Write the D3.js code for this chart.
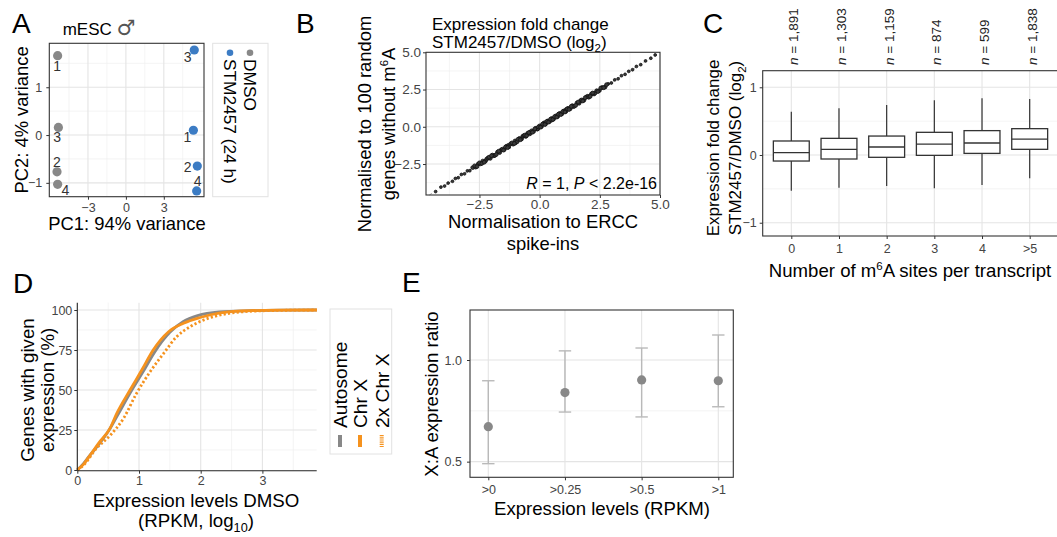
<!DOCTYPE html>
<html>
<head>
<meta charset="utf-8">
<script src="https://cdn.jsdelivr.net/npm/d3@7"></script>
<style>body{margin:0;background:#fff}</style>
</head>
<body>
<script>
// ---- data ----
// A: PCA of samples
var pcaGroup = ["DMSO","DMSO","DMSO","DMSO","STM2457 (24 h)","STM2457 (24 h)","STM2457 (24 h)","STM2457 (24 h)"];
var pcaRep = ["1","2","3","4","1","2","3","4"];
var pcaPC1 = [-5.4,-5.45,-5.34,-5.4,5.34,5.65,5.41,5.6];
var pcaPC2 = [1.66,-0.77,0.16,-1.03,0.10,-0.65,1.78,-1.17];

// B: fold change, ERCC normalisation vs 100 random genes
var foldChangePairs = [[-4.32,-4.35],[-4.1,-4.05],[-3.95,-3.98],[-3.8,-3.78],[-3.62,-3.66],[-3.5,-3.47],[-3.38,-3.42],[-3.25,-3.2],[-3.12,-3.16],[-3.0,-2.96],[-2.9,-2.95],[-2.78,-2.74],[-2.66,-2.71],[-2.55,-2.5],[-2.45,-2.49],[-2.36,-2.3],[-2.25,-2.3],[-2.2,-2.17],[-2.15,-2.1],[-2.05,-2.12],[-1.96,-1.9],[-1.9,-1.95],[-1.86,-1.92],[-1.75,-1.7],[-1.66,-1.73],[-1.6,-1.56],[-1.55,-1.5],[-1.47,-1.53],[-1.38,-1.31],[-1.3,-1.25],[-1.28,-1.35],[-1.2,-1.14],[-1.1,-1.17],[-1.02,-0.95],[-1.0,-1.08],[-0.93,-1.0],[-0.84,-0.78],[-0.75,-0.82],[-0.7,-0.64],[-0.66,-0.6],[-0.58,-0.65],[-0.5,-0.44],[-0.41,-0.48],[-0.4,-0.36],[-0.33,-0.27],[-0.25,-0.31],[-0.16,-0.1],[-0.1,-0.16],[-0.08,-0.14],[0.0,0.06],[0.08,0.02],[0.16,0.22],[0.2,0.27],[0.25,0.19],[0.33,0.39],[0.41,0.35],[0.5,0.56],[0.5,0.45],[0.58,0.52],[0.67,0.73],[0.75,0.69],[0.8,0.86],[0.84,0.9],[0.92,0.86],[1.0,1.06],[1.09,1.03],[1.1,1.15],[1.18,1.24],[1.27,1.21],[1.36,1.42],[1.4,1.35],[1.45,1.39],[1.55,1.6],[1.64,1.58],[1.7,1.75],[1.74,1.8],[1.84,1.78],[1.94,2.0],[2.0,2.05],[2.04,1.98],[2.15,2.2],[2.26,2.2],[2.3,2.26],[2.37,2.42],[2.48,2.43],[2.6,2.64],[2.72,2.67],[2.85,2.88],[2.98,2.94],[3.12,3.15],[3.26,3.22],[3.4,3.43],[3.55,3.52],[3.7,3.72],[3.86,3.83],[4.02,4.05],[4.2,4.17],[4.4,4.42],[4.62,4.6],[4.8,4.82],
    [-2.7,-2.62],[-2.6,-2.67],[-2.5,-2.42],[-2.4,-2.46],[-2.3,-2.38],[-2.1,-2.04],[-2.0,-1.94],[-1.8,-1.86],[-1.7,-1.64],[-1.5,-1.57],[-1.42,-1.36],[-1.33,-1.4],[-1.15,-1.08],[-1.05,-1.12],[-0.9,-0.84],[-0.8,-0.87],[-0.62,-0.56],[-0.54,-0.6],[-0.45,-0.39],[-0.3,-0.37],[-0.2,-0.14],[-0.05,-0.01],[0.04,-0.03],[0.12,0.18],[0.22,0.15],[0.3,0.36],[0.37,0.31],[0.45,0.51],[0.55,0.49],[0.62,0.68],[0.71,0.65],[0.78,0.84],[0.88,0.82],[0.96,1.02],[1.05,0.99],[1.14,1.2],[1.22,1.16],[1.31,1.37],[1.5,1.44],[1.6,1.66],[1.79,1.73],[1.89,1.95],[2.1,2.04],[2.2,2.27],[2.42,2.36],[2.54,2.6],[2.66,2.62],[2.78,2.83]];

// C: boxplots by number of m6A sites
var siteCats = ["0","1","2","3","4",">5"];
var siteN = ["1,891","1,303","1,159","874","599","1,838"];
var boxLow = [-0.527,-0.483,-0.458,-0.49,-0.443,-0.345];
var boxQ1 = [-0.089,-0.059,-0.034,-0.005,0.024,0.084];
var boxMed = [0.034,0.084,0.118,0.162,0.177,0.236];
var boxQ3 = [0.207,0.246,0.28,0.335,0.36,0.389];
var boxHigh = [0.64,0.69,0.74,0.81,0.837,0.827];

// D: cumulative expression distributions
var autoX = [0,0.1,0.2,0.35,0.5,0.65,0.87,1.06,1.25,1.5,1.72,1.95,2.3,2.8,3.3,3.88];
var autoY = [0,4,9,16,24,34,49,61,73.5,86,92.8,96.5,98.8,99.6,99.9,100];
var chrXX = [0,0.1,0.21,0.35,0.53,0.64,0.855,1.045,1.23,1.48,1.72,1.99,2.32,2.8,3.3,3.88];
var chrXY = [0,3.5,9.4,17,26,35.4,50,62.5,75,86.4,91.7,95.3,98.2,99.6,99.9,100];
var twoXX = [0,0.1,0.31,0.53,0.75,0.96,1.18,1.4,1.61,1.83,2.05,2.32,2.69,3.2,3.88];
var twoXY = [0,3,13.5,21.5,32.3,47.9,61.4,72.9,83.3,89.6,93.8,96.9,98.9,99.7,100];
var cdfNames = ["Autosome","Chr X","2x Chr X"];

// E: X:A ratio by expression threshold
var rpkmCats = [">0",">0.25",">0.5",">1"];
var xaRatio = [0.672,0.84,0.902,0.898];
var xaLow = [0.49,0.744,0.72,0.77];
var xaHigh = [0.898,1.045,1.059,1.123];

// ---- drawing ----
var FONT = "'Liberation Sans', Arial, Helvetica, sans-serif";
var GRAY = "#888888", BLUE = "#3c7cc4", ORANGE = "#f5921e";

var svg = d3.select("body").append("svg")
    .attr("width", 1057).attr("height", 537)
    .attr("font-family", FONT);

// text with sub/superscript and italic parts
function rich(sel, parts, size) {
    var shift = 0;
    parts.forEach(function(p) {
        var ts = sel.append("tspan").text(p[0]);
        var target = 0;
        if (p[1] === "sub") { target = size * 0.26; ts.attr("font-size", size * 0.68); }
        if (p[1] === "sup") { target = -size * 0.38; ts.attr("font-size", size * 0.62); }
        if (p[1] === "it") ts.attr("font-style", "italic");
        if (p[1] === "sym") ts.attr("font-size", size * 1.25).attr("font-family", "'DejaVu Sans', sans-serif").attr("fill", "#555");
        if (target !== shift) { ts.attr("dy", target - shift); shift = target; }
    });
    return sel;
}

function label(x, y, parts, size, rot, anchor) {
    var t = svg.append("text")
        .attr("transform", "translate(" + x + "," + y + ")" + (rot ? " rotate(" + rot + ")" : ""))
        .attr("font-size", size)
        .attr("text-anchor", anchor || "middle")
        .attr("fill", "#000");
    return rich(t, parts, size);
}

function vLines(g, s, vals, y0, y1, major) {
    g.selectAll(null).data(vals).enter().append("line")
        .attr("x1", s).attr("x2", s).attr("y1", y0).attr("y2", y1)
        .attr("stroke", major ? "#e4e4e4" : "#efefef")
        .attr("stroke-width", major ? 1.1 : 0.7);
}
function hLines(g, s, vals, x0, x1, major) {
    g.selectAll(null).data(vals).enter().append("line")
        .attr("y1", s).attr("y2", s).attr("x1", x0).attr("x2", x1)
        .attr("stroke", major ? "#e4e4e4" : "#efefef")
        .attr("stroke-width", major ? 1.1 : 0.7);
}
function styleAxis(g, size) {
    g.select(".domain").remove();
    g.attr("font-family", FONT).attr("font-size", size);
    g.selectAll(".tick line").attr("stroke", "#333");
    g.selectAll(".tick text").attr("fill", "#444");
}
function border(g, x0, y0, x1, y1) {
    g.append("rect").attr("x", x0).attr("y", y0)
        .attr("width", x1 - x0).attr("height", y1 - y0)
        .attr("fill", "none").attr("stroke", "#333").attr("stroke-width", 1.1);
}

// panel letters
[["A",12,33],["B",296,33],["C",703,33],["D",13,293],["E",402,292]].forEach(function(l) {
    svg.append("text").attr("x", l[1]).attr("y", l[2]).attr("font-size", 28).text(l[0]);
});

// ===== A =====
var gA = svg.append("g");
var ax = d3.scaleLinear().domain([-6.06, 6.18]).range([49.3, 204]);
var ay = d3.scaleLinear().domain([-1.29, 1.92]).range([196.7, 43.3]);
vLines(gA, ax, [-4.5,-1.5,1.5,4.5], 43.3, 196.7, false);
hLines(gA, ay, [-0.5,0.5,1.5], 49.3, 204, false);
vLines(gA, ax, [-3,0,3], 43.3, 196.7, true);
hLines(gA, ay, [-1,0,1], 49.3, 204, true);

var pcaColor = d3.scaleOrdinal().domain(["DMSO","STM2457 (24 h)"]).range([GRAY, BLUE]);
gA.selectAll("circle.pca").data(d3.range(pcaRep.length)).enter().append("circle")
    .attr("cx", function(i) { return ax(pcaPC1[i]); })
    .attr("cy", function(i) { return ay(pcaPC2[i]); })
    .attr("r", 4.6)
    .attr("fill", function(i) { return pcaColor(pcaGroup[i]); });
// where each replicate number sits next to its point
var repOffset = [[-0.6,10.7],[0,-9.4],[-1.3,9.4],[7.7,6],[-6,6.7],[-9.6,0.7],[-6.6,6.7],[1,-9.7]];
gA.selectAll("text.rep").data(d3.range(pcaRep.length)).enter().append("text")
    .attr("x", function(i) { return ax(pcaPC1[i]) + repOffset[i][0]; })
    .attr("y", function(i) { return ay(pcaPC2[i]) + repOffset[i][1]; })
    .attr("dy", "0.36em").attr("text-anchor", "middle")
    .attr("font-size", 14).attr("fill", "#333")
    .text(function(i) { return pcaRep[i]; });
border(gA, 49.3, 43.3, 204, 196.7);
var axA = gA.append("g").attr("transform", "translate(0,196.7)")
    .call(d3.axisBottom(ax).tickValues([-3,0,3]).tickSize(3).tickPadding(3).tickFormat(d3.format("d")));
styleAxis(axA, 12.5);
var ayA = gA.append("g").attr("transform", "translate(49.3,0)")
    .call(d3.axisLeft(ay).tickValues([-1,0,1]).tickSize(3).tickPadding(4).tickFormat(d3.format("d")));
styleAxis(ayA, 12.5);
label(62.7, 35, [["mESC "],["\u2642","sym"]], 17, 0, "start");
label(127, 230, [["PC1: 94% variance"]], 18.4);
label(21.7, 120, [["PC2: 4% variance"]], 18.4, -90).attr("dy", "0.36em");
// legend A
gA.append("rect").attr("x", 212.7).attr("y", 43.3).attr("width", 55.3).attr("height", 153.4)
    .attr("fill", "none").attr("stroke", "#e2e2e2");
[["STM2457 (24 h)", 230], ["DMSO", 250]].forEach(function(k) {
    gA.append("circle").attr("cx", k[1]).attr("cy", 52.7).attr("r", 3.3).attr("fill", pcaColor(k[0]));
    label(k[1], 59, [[k[0]]], 17.3, 90, "start").attr("dominant-baseline", "central");
});

// ===== B =====
var gB = svg.append("g");
var bx = d3.scaleLinear().domain([-4.72, 5.0]).range([426, 660]);
var by = d3.scaleLinear().domain([-4.58, 5.0]).range([195, 52.3]);
var bMinor = [-3.75,-1.25,1.25,3.75], bMajor = [-2.5,0,2.5,5];
vLines(gB, bx, bMinor, 52.3, 195, false);
hLines(gB, by, bMinor, 426, 660, false);
vLines(gB, bx, bMajor, 52.3, 195, true);
hLines(gB, by, bMajor.slice(0, 3), 426, 660, true);
gB.append("line")
    .attr("x1", bx(-4.58)).attr("y1", by(-4.58)).attr("x2", bx(5)).attr("y2", by(5))
    .attr("stroke", "#a8a8a8").attr("stroke-width", 1).attr("stroke-dasharray", "3,3");
gB.selectAll("circle.fc").data(foldChangePairs).enter().append("circle")
    .attr("cx", function(d) { return bx(d[0]); })
    .attr("cy", function(d) { return by(d[1]); })
    .attr("r", function(d) { return Math.abs(d[0]) < 2.8 ? 1.9 : 1.4; })
    .attr("fill", "#3a3a3a").attr("stroke", "#111").attr("stroke-width", 0.8);
border(gB, 426, 52.3, 660, 195);
var axB = gB.append("g").attr("transform", "translate(0,195)")
    .call(d3.axisBottom(bx).tickValues(bMajor).tickSize(3).tickPadding(1).tickFormat(d3.format(".1f")));
styleAxis(axB, 13.5);
var ayB = gB.append("g").attr("transform", "translate(426,0)")
    .call(d3.axisLeft(by).tickValues(bMajor).tickSize(3).tickPadding(2).tickFormat(d3.format(".1f")));
styleAxis(ayB, 13.5);
label(657, 189, [["R","it"],[" = 1, "],["P","it"],[" < 2.2e-16"]], 16, 0, "end");
label(432, 29.5, [["Expression fold change"]], 17, 0, "start");
label(432, 47.5, [["STM2457/DMSO (log"],["2","sub"],[")"]], 17, 0, "start");
label(543, 228, [["Normalisation to ERCC"]], 18.4);
label(543, 250, [["spike-ins"]], 18.4);
label(364, 124, [["Normalised to 100 random"]], 18.4, -90).attr("dy", "0.36em");
label(388, 124, [["genes without m"],["6","sup"],["A"]], 18.4, -90).attr("dy", "0.36em");

// ===== C =====
var gC = svg.append("g");
var cx = d3.scalePoint().domain(siteCats).range([762.7, 1058.3]).padding(0.6);
var cy = d3.scaleLinear().domain([-1.196, 1.245]).range([236, 70.7]);
hLines(gC, cy, [-0.5,0.5], 762.7, 1058.3, false);
hLines(gC, cy, [-1,0,1], 762.7, 1058.3, true);
vLines(gC, cx, siteCats, 70.7, 236, true);
var bw = cx.step() * 0.753;
siteCats.forEach(function(c, i) {
    var x = cx(c);
    gC.append("line").attr("x1", x).attr("x2", x).attr("y1", cy(boxHigh[i])).attr("y2", cy(boxLow[i]))
        .attr("stroke", "#333").attr("stroke-width", 1.2);
    gC.append("rect").attr("x", x - bw / 2).attr("width", bw)
        .attr("y", cy(boxQ3[i])).attr("height", cy(boxQ1[i]) - cy(boxQ3[i]))
        .attr("fill", "#fff").attr("stroke", "#333").attr("stroke-width", 1.3);
    gC.append("line").attr("x1", x - bw / 2).attr("x2", x + bw / 2)
        .attr("y1", cy(boxMed[i])).attr("y2", cy(boxMed[i]))
        .attr("stroke", "#333").attr("stroke-width", 1.3);
    label(x + 2, 65, [["n","it"],[" = " + siteN[i]]], 13.5, -90, "start")
        .attr("dominant-baseline", "central").attr("fill", "#222");
});
border(gC, 762.7, 70.7, 1058.3, 236);
var axC = gC.append("g").attr("transform", "translate(0,236)")
    .call(d3.axisBottom(cx).tickSize(3).tickPadding(5));
styleAxis(axC, 12.5);
var ayC = gC.append("g").attr("transform", "translate(762.7,0)")
    .call(d3.axisLeft(cy).tickValues([-1,0,1]).tickSize(3).tickPadding(3).tickFormat(d3.format("d")));
styleAxis(ayC, 12.5);
label(910, 277, [["Number of m"],["6","sup"],["A sites per transcript"]], 18.6);
label(713, 148, [["Expression fold change"]], 17, -90).attr("dy", "0.36em");
label(735, 148, [["STM2457/DMSO (log"],["2","sub"],[")"]], 17, -90).attr("dy", "0.36em");

// ===== D =====
var gD = svg.append("g");
var dx = d3.scaleLinear().domain([0, 3.88]).range([77.3, 316.7]);
var dy = d3.scaleLinear().domain([0, 100]).range([470, 310]);
vLines(gD, dx, [0.5,1.5,2.5,3.5], 302.7, 470.7, false);
hLines(gD, dy, [12.5,37.5,62.5,87.5], 77.3, 316.7, false);
vLines(gD, dx, [1,2,3], 302.7, 470.7, true);
hLines(gD, dy, [25,50,75,100], 77.3, 316.7, true);
var cdfLine = d3.line().curve(d3.curveMonotoneX)
    .x(function(d) { return dx(d[0]); }).y(function(d) { return dy(d[1]); });
var cdfSeries = [
    {name: cdfNames[0], xs: autoX, ys: autoY, color: GRAY, dash: null},
    {name: cdfNames[1], xs: chrXX, ys: chrXY, color: ORANGE, dash: null},
    {name: cdfNames[2], xs: twoXX, ys: twoXY, color: ORANGE, dash: "2.2,2.2"}
];
cdfSeries.forEach(function(s) {
    gD.append("path").datum(d3.zip(s.xs, s.ys)).attr("d", cdfLine)
        .attr("fill", "none").attr("stroke", s.color).attr("stroke-width", 2.8)
        .attr("stroke-dasharray", s.dash);
});
gD.append("line").attr("x1", 77.3).attr("x2", 77.3).attr("y1", 302.7).attr("y2", 470.7)
    .attr("stroke", "#222").attr("stroke-width", 1.1);
gD.append("line").attr("x1", 77.3).attr("x2", 316.7).attr("y1", 470.7).attr("y2", 470.7)
    .attr("stroke", "#222").attr("stroke-width", 1.1);
var axD = gD.append("g").attr("transform", "translate(0,470.7)")
    .call(d3.axisBottom(dx).tickValues([0,1,2,3]).tickSize(3).tickPadding(2).tickFormat(d3.format("d")));
styleAxis(axD, 12.5);
var ayD = gD.append("g").attr("transform", "translate(77.3,0)")
    .call(d3.axisLeft(dy).tickValues([0,25,50,75,100]).tickSize(3).tickPadding(2).tickFormat(d3.format("d")));
styleAxis(ayD, 12.5);
label(196, 507, [["Expression levels DMSO"]], 18.7);
label(196, 527, [["(RPKM, log"],["10","sub"],[")"]], 18.7);
label(27, 390, [["Genes with given"]], 18.7, -90).attr("dy", "0.36em");
label(47, 390, [["expression (%)"]], 18.7, -90).attr("dy", "0.36em");
// legend D
gD.append("rect").attr("x", 330).attr("y", 309).attr("width", 61.7).attr("height", 145)
    .attr("fill", "none").attr("stroke", "#e2e2e2");
[340, 360, 381.7].forEach(function(x, i) {
    var s = cdfSeries[i];
    gD.append("line").attr("x1", x).attr("x2", x).attr("y1", 435).attr("y2", 447)
        .attr("stroke", s.color).attr("stroke-width", 4)
        .attr("stroke-dasharray", s.dash ? "1.2,1" : null);
    label(x, 428, [[s.name]], 19.2, -90, "start").attr("dominant-baseline", "central");
});

// ===== E =====
var gE = svg.append("g");
var ex = d3.scalePoint().domain(rpkmCats).range([488.3, 718.3]);
var ey = d3.scaleLinear().domain([0.423, 1.246]).range([477.3, 310]);
hLines(gE, ey, [0.75], 470, 733.3, false);
hLines(gE, ey, [0.5, 1.0], 470, 733.3, true);
vLines(gE, ex, rpkmCats, 310, 477.3, true);
rpkmCats.forEach(function(c, i) {
    var x = ex(c);
    gE.append("line").attr("x1", x).attr("x2", x).attr("y1", ey(xaLow[i])).attr("y2", ey(xaHigh[i]))
        .attr("stroke", "#b9b9b9").attr("stroke-width", 1.4);
    [xaLow[i], xaHigh[i]].forEach(function(v) {
        gE.append("line").attr("x1", x - 6.2).attr("x2", x + 6.2).attr("y1", ey(v)).attr("y2", ey(v))
            .attr("stroke", "#b9b9b9").attr("stroke-width", 1.4);
    });
    gE.append("circle").attr("cx", x).attr("cy", ey(xaRatio[i])).attr("r", 4.6).attr("fill", GRAY);
});
border(gE, 470, 310, 733.3, 477.3);
var axE = gE.append("g").attr("transform", "translate(0,477.3)")
    .call(d3.axisBottom(ex).tickSize(3).tickPadding(5));
styleAxis(axE, 12.5);
var ayE = gE.append("g").attr("transform", "translate(470,0)")
    .call(d3.axisLeft(ey).tickValues([0.5, 1.0]).tickSize(3).tickPadding(5).tickFormat(d3.format(".1f")));
styleAxis(ayE, 12.5);
label(602, 515, [["Expression levels (RPKM)"]], 18.6);
label(431.7, 394, [["X:A expression ratio"]], 18.6, -90).attr("dy", "0.36em");
</script>
</body>
</html>
